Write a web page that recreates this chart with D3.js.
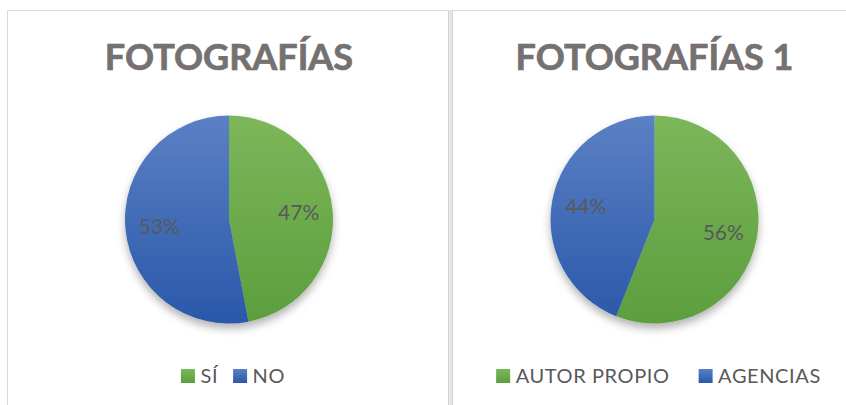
<!DOCTYPE html>
<html>
<head>
<meta charset="utf-8">
<script src="https://cdn.jsdelivr.net/npm/d3@7"></script>
<style>
  body { margin: 0; background: #fff; }
  svg { display: block; }
</style>
</head>
<body>
<script>
"use strict";
(function(){
  // chart data
  const titles = ["FOTOGRAFÍAS", "FOTOGRAFÍAS 1"]
  const categoriesLeft = ["SÍ", "NO"]
  const valuesLeft = [47, 53]
  const categoriesRight = ["AUTOR PROPIO", "AGENCIAS"]
  const valuesRight = [56, 44]

  const m = { width: 846, height: 405 }
  const font = "Lato, 'Open Sans', sans-serif"
  const colors = [
    { id: "gGreen", top: "#7cb75a", bottom: "#5c9e3e" },
    { id: "gBlue", top: "#5b80c4", bottom: "#2a58aa" }
  ]
  const r = 104

  const svg = d3.select("body").append("svg")
      .attr("width", m.width)
      .attr("height", m.height)

  const defs = svg.append("defs")
  colors.forEach(c => {
    // pie gradient, in the pie's own coordinates
    let lg = defs.append("linearGradient")
        .attr("id", c.id)
        .attr("gradientUnits", "userSpaceOnUse")
        .attr("x1", 0).attr("x2", 0)
        .attr("y1", -r).attr("y2", r)
    lg.append("stop").attr("offset", "0%").attr("stop-color", c.top)
    lg.append("stop").attr("offset", "100%").attr("stop-color", c.bottom)
    // legend box gradient
    let lb = defs.append("linearGradient")
        .attr("id", c.id + "L")
        .attr("x1", 0).attr("x2", 0).attr("y1", 0).attr("y2", 1)
    lb.append("stop").attr("offset", "0%").attr("stop-color", c.top)
    lb.append("stop").attr("offset", "100%").attr("stop-color", c.bottom)
  })
  const shadow = defs.append("filter")
      .attr("id", "shadow")
      .attr("x", "-20%").attr("y", "-20%")
      .attr("width", "140%").attr("height", "140%")
  shadow.append("feDropShadow")
      .attr("dx", 0).attr("dy", 5)
      .attr("stdDeviation", 4)
      .attr("flood-color", "#000")
      .attr("flood-opacity", 0.3)

  // panel frames
  svg.append("line")
      .attr("x1", 7).attr("x2", m.width).attr("y1", 10.5).attr("y2", 10.5)
      .attr("stroke", "#d9d9d9")
  svg.append("line")
      .attr("x1", 7.5).attr("x2", 7.5).attr("y1", 10).attr("y2", m.height)
      .attr("stroke", "#d9d9d9")
  svg.append("rect")
      .attr("x", 448).attr("y", 10).attr("width", 5).attr("height", m.height - 10)
      .attr("fill", "#e6e6e6")
  svg.append("line")
      .attr("x1", 448.5).attr("x2", 448.5).attr("y1", 10).attr("y2", m.height)
      .attr("stroke", "#d4d4d4")
  svg.append("line")
      .attr("x1", 452.5).attr("x2", 452.5).attr("y1", 10).attr("y2", m.height)
      .attr("stroke", "#d4d4d4")

  const pie = d3.pie().sort(null).value(d => d)
  const arc = d3.arc().innerRadius(0).outerRadius(r)
  const labelArc = d3.arc().innerRadius(70).outerRadius(70)

  function drawChart(cx, title, cats, vals, legendGap) {
    const g = svg.append("g")
    g.append("text")
        .attr("x", cx)
        .attr("y", 70)
        .attr("text-anchor", "middle")
        .attr("font-family", font)
        .attr("font-weight", "bold")
        .attr("font-size", "36px")
        .attr("fill", "#757171")
        .attr("stroke", "#757171")
        .attr("stroke-width", 0.7)
        .text(title)

    const pg = g.append("g")
        .attr("transform", "translate(" + cx + ",219.5)")
    pg.append("g").attr("filter", "url(#shadow)")
      .selectAll("path")
      .data(pie(vals))
      .enter()
      .append("path")
        .attr("d", arc)
        .attr("fill", (d, i) => "url(#" + colors[i].id + ")")
    pg.selectAll(".lbl")
      .data(pie(vals))
      .enter()
      .append("text")
        .attr("class", "lbl")
        .attr("transform", d => "translate(" + labelArc.centroid(d) + ")")
        .attr("text-anchor", "middle")
        .attr("dy", "0.36em")
        .attr("font-family", font)
        .attr("font-size", "21px")
        .attr("fill", "#595959")
        .text(d => d.data + "%")

    // legend
    const lg = g.append("g")
    let x = 0
    cats.forEach((c, i) => {
      lg.append("rect")
          .attr("x", x).attr("y", 369)
          .attr("width", 14).attr("height", 14)
          .attr("fill", "url(#" + colors[i].id + "L)")
      let t = lg.append("text")
          .attr("x", x + 19.5).attr("y", 382.5)
          .attr("font-family", font)
          .attr("font-size", "20px")
          .attr("letter-spacing", "0.6px")
          .attr("fill", "#595959")
          .text(c)
      x += 19.5 + t.node().getComputedTextLength() + legendGap
    })
    let w = x - legendGap
    lg.attr("transform", "translate(" + (cx + 4 - w / 2) + ",0)")
  }

  drawChart(229, titles[0], categoriesLeft, valuesLeft, 15)
  drawChart(654.5, titles[1], categoriesRight, valuesRight, 29)
})();
</script>
</body>
</html>
